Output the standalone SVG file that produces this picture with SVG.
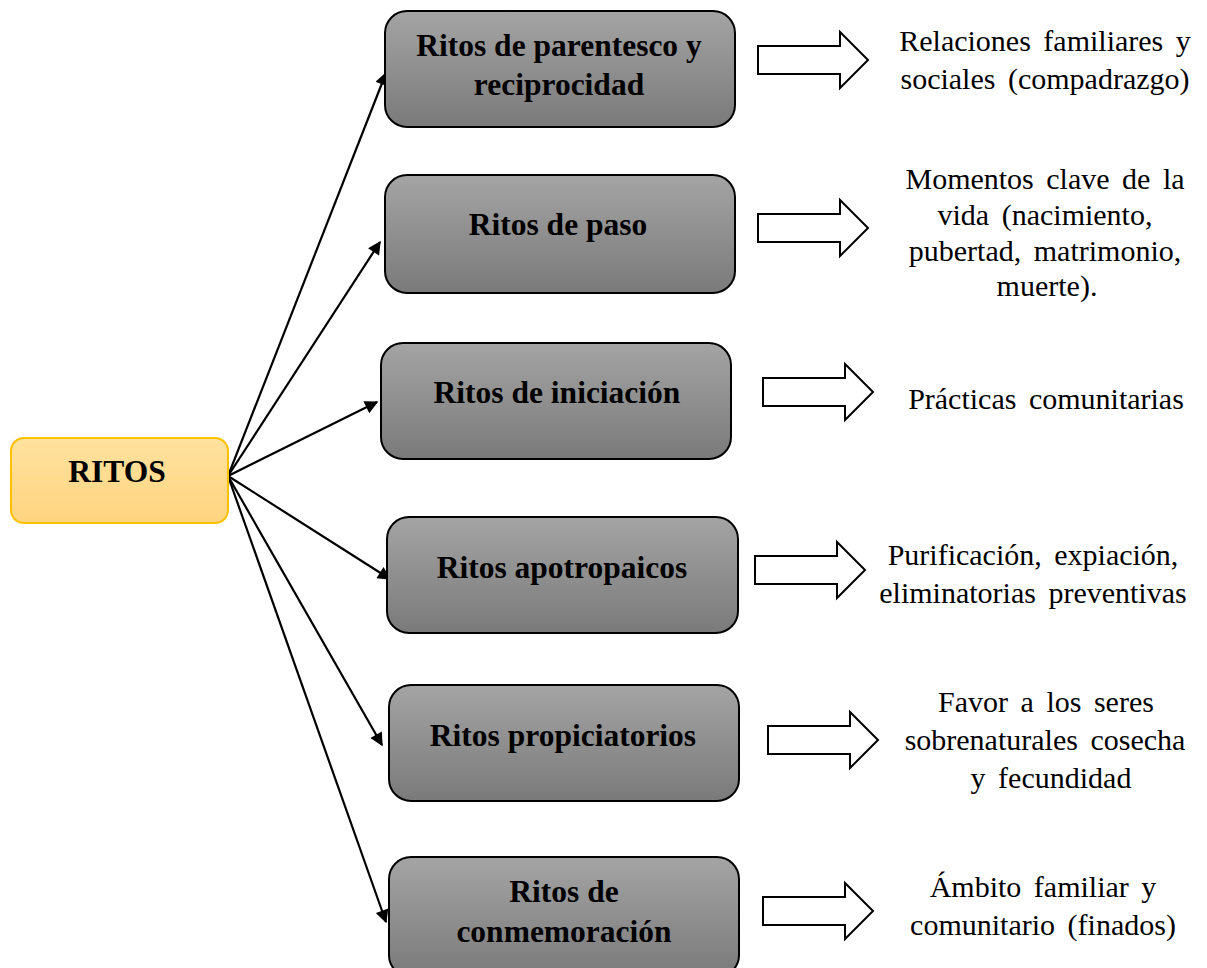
<svg xmlns="http://www.w3.org/2000/svg" width="1207" height="968" viewBox="0 0 1207 968">
<style>
.box{stroke:#000;stroke-width:2;fill:url(#g)}
.t{font-family:"Liberation Serif","Times New Roman",serif;font-weight:bold;font-size:31.5px;fill:#000;text-anchor:middle}
.d{font-family:"Liberation Serif","Times New Roman",serif;font-size:30px;fill:#000;text-anchor:middle;word-spacing:5px}
.c{stroke:#000;stroke-width:2.2;fill:none;marker-end:url(#ah)}
.ba{fill:#fff;stroke:#000;stroke-width:2;stroke-linejoin:miter}
</style>
<defs>
<linearGradient id="g" x1="0" y1="0" x2="0" y2="1">
<stop offset="0" stop-color="#a4a4a4"/>
<stop offset="1" stop-color="#7a7a7a"/>
</linearGradient>
<linearGradient id="gy" x1="0" y1="0" x2="0" y2="1">
<stop offset="0" stop-color="#ffe29f"/>
<stop offset="1" stop-color="#ffd47f"/>
</linearGradient>
<marker id="ah" viewBox="0 0 10 10" refX="9" refY="5" markerWidth="7" markerHeight="6" markerUnits="strokeWidth" orient="auto">
<path d="M0,0 L10,5 L0,10 Z" fill="#000"/>
</marker>
<path id="blk" d="M0,-14 L82,-14 L82,-28 L110,0 L82,28 L82,14 L0,14 Z"/>
</defs>
<g id="connectors">
<line class="c" x1="228" y1="476" x2="386" y2="73"/>
<line class="c" x1="228" y1="476" x2="380" y2="242"/>
<line class="c" x1="228" y1="476" x2="377" y2="402"/>
<line class="c" x1="228" y1="476" x2="390" y2="579"/>
<line class="c" x1="228" y1="476" x2="382" y2="745"/>
<line class="c" x1="228" y1="476" x2="386" y2="922"/>
</g>
<g id="ritos">
<rect x="11" y="438" width="217" height="85" rx="13" fill="url(#gy)" stroke="#ffc000" stroke-width="2"/>
<text class="t" x="117" y="482">RITOS</text>
</g>
<g id="n1">
<rect class="box" x="385" y="11" width="350" height="116" rx="22"/>
<text class="t" x="559" y="56">Ritos de parentesco y</text>
<text class="t" x="559" y="95">reciprocidad</text>
</g>
<g id="n2">
<rect class="box" x="385" y="175" width="350" height="118" rx="22"/>
<text class="t" x="558" y="235">Ritos de paso</text>
</g>
<g id="n3">
<rect class="box" x="381" y="343" width="350" height="116" rx="22"/>
<text class="t" x="557" y="403">Ritos de iniciación</text>
</g>
<g id="n4">
<rect class="box" x="387" y="517" width="351" height="116" rx="22"/>
<text class="t" x="562" y="578">Ritos apotropaicos</text>
</g>
<g id="n5">
<rect class="box" x="389" y="685" width="350" height="116" rx="22"/>
<text class="t" x="563" y="746">Ritos propiciatorios</text>
</g>
<g id="n6">
<rect class="box" x="389" y="857" width="350" height="120" rx="22"/>
<text class="t" x="564" y="902">Ritos de</text>
<text class="t" x="564" y="942">conmemoración</text>
</g>
<g id="blockarrows">
<use href="#blk" class="ba" x="758" y="60"/>
<use href="#blk" class="ba" x="758" y="228"/>
<use href="#blk" class="ba" x="763" y="392"/>
<use href="#blk" class="ba" x="755" y="570"/>
<use href="#blk" class="ba" x="768" y="740"/>
<use href="#blk" class="ba" x="763" y="911"/>
</g>
<g id="d1">
<text class="d" x="1045" y="51" word-spacing="10">Relaciones familiares y</text>
<text class="d" x="1045" y="89">sociales (compadrazgo)</text>
</g>
<g id="d2">
<text class="d" x="1045" y="189">Momentos clave de la</text>
<text class="d" x="1045" y="225">vida (nacimiento,</text>
<text class="d" x="1045" y="261">pubertad, matrimonio,</text>
<text class="d" x="1047" y="296">muerte).</text>
</g>
<g id="d3">
<text class="d" x="1046" y="409" word-spacing="8">Prácticas comunitarias</text>
</g>
<g id="d4">
<text class="d" x="1033" y="565" word-spacing="10">Purificación, expiación,</text>
<text class="d" x="1033" y="603">eliminatorias preventivas</text>
</g>
<g id="d5">
<text class="d" x="1046" y="712">Favor a los seres</text>
<text class="d" x="1045" y="750">sobrenaturales cosecha</text>
<text class="d" x="1051" y="788">y fecundidad</text>
</g>
<g id="d6">
<text class="d" x="1043" y="897" word-spacing="8">Ámbito familiar y</text>
<text class="d" x="1043" y="935">comunitario (finados)</text>
</g>
</svg>
